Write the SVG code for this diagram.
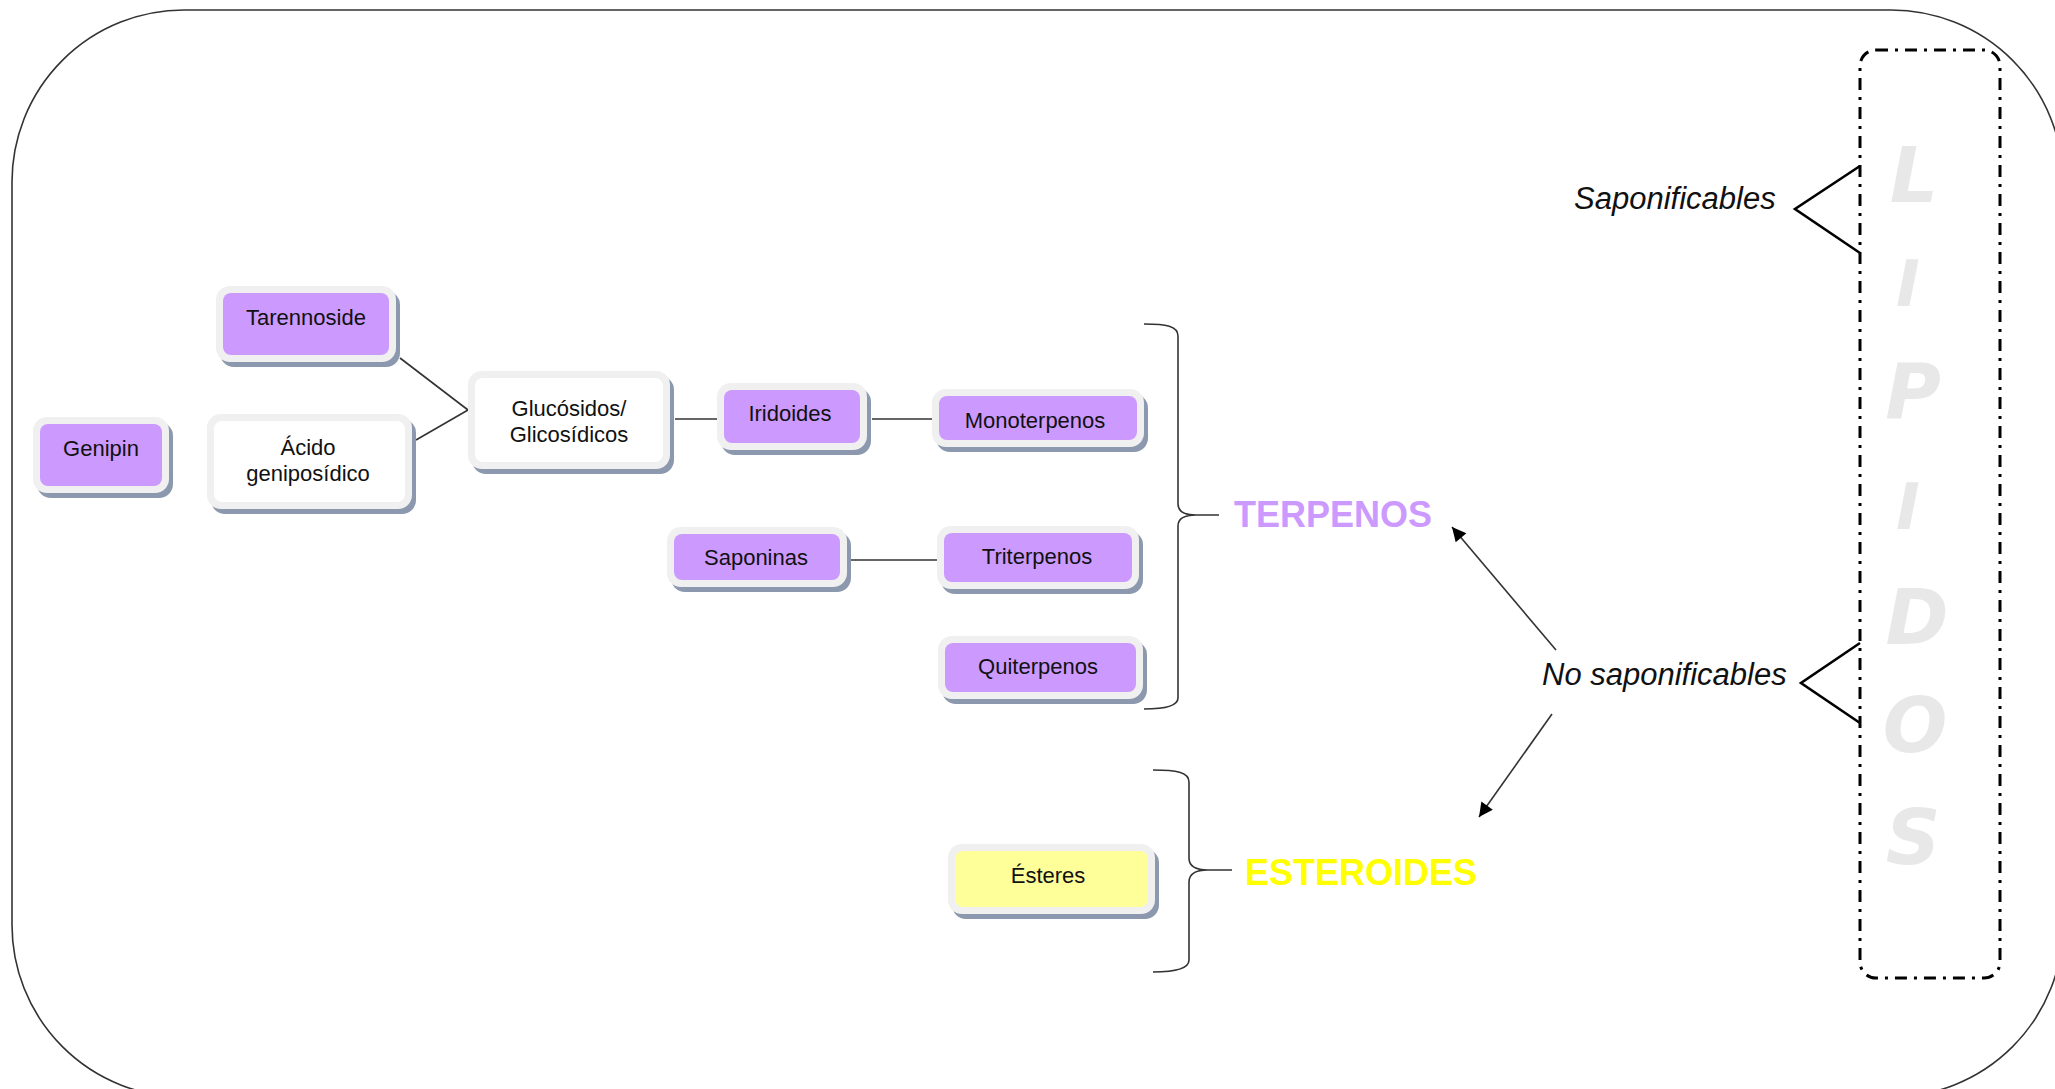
<svg xmlns="http://www.w3.org/2000/svg" width="2055" height="1089" viewBox="0 0 2055 1089">
<defs>
<style>
.shadow{fill:#8c98ae}
.frame{fill:#f0f0f0}
.purple{fill:#cc99ff}
.white{fill:#ffffff}
.yellow{fill:#ffff99}
.lbl{font-family:"Liberation Sans",Arial,sans-serif;font-size:22px;fill:#111;text-anchor:middle}
.conn{stroke:#333;stroke-width:1.6;fill:none}
.brace{stroke:#333;stroke-width:1.6;fill:none}
.side{font-family:"Liberation Sans",Arial,sans-serif;font-size:31px;font-style:italic;fill:#111}
.big{font-family:"Liberation Sans",Arial,sans-serif;font-size:36px;font-weight:bold}
.lip{font-family:"DejaVu Sans",sans-serif;font-size:76px;font-weight:bold;font-style:italic;fill:#e8e8e8;text-anchor:middle}
.lipi{font-size:64px}
</style>
<marker id="arr" viewBox="0 0 10 10" refX="10" refY="5" markerWidth="19" markerHeight="14" markerUnits="userSpaceOnUse" orient="auto">
<path d="M0,0 L10,5 L0,10 z" fill="#000"/>
</marker>
</defs>
<rect width="2055" height="1089" fill="#fff"/>
<rect id="outer" x="12" y="10" width="2051" height="1087" rx="172" fill="none" stroke="#333" stroke-width="1.6"/>

<g id="lipidos">
<rect x="1860" y="50" width="140" height="928" rx="16" fill="none" stroke="#000" stroke-width="3" stroke-dasharray="12 7 3 7"/>
<text class="lip" x="1914" y="202">L</text>
<text class="lip lipi" x="1908" y="306">I</text>
<text class="lip" x="1913" y="418">P</text>
<text class="lip lipi" x="1908" y="529">I</text>
<text class="lip" x="1917" y="644">D</text>
<text class="lip" x="1915" y="752">O</text>
<text class="lip" x="1913" y="864">S</text>
</g>

<g id="connectors">
<line class="conn" x1="400" y1="358" x2="468" y2="410"/>
<line class="conn" x1="416" y1="440" x2="468" y2="410"/>
<line class="conn" x1="675" y1="419" x2="717" y2="419"/>
<line class="conn" x1="872" y1="419" x2="932" y2="419"/>
<line class="conn" x1="850" y1="560" x2="937" y2="560"/>
<line class="conn" x1="1556" y1="650" x2="1452" y2="527" marker-end="url(#arr)"/>
<line class="conn" x1="1552" y1="714" x2="1479" y2="817" marker-end="url(#arr)"/>
<path class="brace" d="M1144,324 C1166,324 1178,326 1178,336 L1178,504 C1178,512 1184,515 1196,515 L1219,515 M1196,515 C1184,515 1178,518 1178,526 L1178,698 C1178,706 1166,709 1144,709"/>
<path class="brace" d="M1153,770 C1176,770 1189,772 1189,782 L1189,858 C1189,866 1196,870 1208,870 L1232,870 M1208,870 C1196,870 1189,874 1189,882 L1189,960 C1189,968 1176,972 1153,972"/>
<polyline points="1860,166 1795,209 1860,253" fill="none" stroke="#000" stroke-width="2.6"/>
<polyline points="1860,643 1801,683 1860,723" fill="none" stroke="#000" stroke-width="2.6"/>
</g>

<g id="n-tarennoside">
<rect class="shadow" x="220" y="291" width="180" height="76" rx="14"/>
<rect class="frame" x="216" y="286" width="180" height="76" rx="14"/>
<rect class="purple" x="223" y="293" width="166" height="62" rx="8"/>
<text class="lbl" x="306" y="325">Tarennoside</text>
</g>

<g id="n-genipin">
<rect class="shadow" x="37" y="422" width="136" height="76" rx="14"/>
<rect class="frame" x="33" y="417" width="136" height="76" rx="14"/>
<rect class="purple" x="40" y="424" width="122" height="62" rx="8"/>
<text class="lbl" x="101" y="456">Genipin</text>
</g>

<g id="n-acido">
<rect class="shadow" x="211" y="419" width="205" height="95" rx="14"/>
<rect class="frame" x="207" y="414" width="205" height="95" rx="14"/>
<rect class="white" x="214" y="421" width="191" height="81" rx="8"/>
<text class="lbl" x="308" y="455">Ácido</text>
<text class="lbl" x="308" y="481">geniposídico</text>
</g>

<g id="n-glucosidos">
<rect class="shadow" x="472" y="376" width="202" height="98" rx="14"/>
<rect class="frame" x="468" y="371" width="202" height="98" rx="14"/>
<rect class="white" x="475" y="378" width="188" height="84" rx="8"/>
<text class="lbl" x="569" y="416">Glucósidos/</text>
<text class="lbl" x="569" y="442">Glicosídicos</text>
</g>

<g id="n-iridoides">
<rect class="shadow" x="721" y="388" width="150" height="67" rx="14"/>
<rect class="frame" x="717" y="383" width="150" height="67" rx="14"/>
<rect class="purple" x="724" y="390" width="136" height="53" rx="8"/>
<text class="lbl" x="790" y="421">Iridoides</text>
</g>

<g id="n-monoterpenos">
<rect class="shadow" x="936" y="394" width="212" height="58" rx="14"/>
<rect class="frame" x="932" y="389" width="212" height="58" rx="14"/>
<rect class="purple" x="939" y="396" width="198" height="44" rx="8"/>
<text class="lbl" x="1035" y="428">Monoterpenos</text>
</g>

<g id="n-saponinas">
<rect class="shadow" x="671" y="532" width="180" height="60" rx="14"/>
<rect class="frame" x="667" y="527" width="180" height="60" rx="14"/>
<rect class="purple" x="674" y="534" width="166" height="46" rx="8"/>
<text class="lbl" x="756" y="565">Saponinas</text>
</g>

<g id="n-triterpenos">
<rect class="shadow" x="941" y="531" width="202" height="63" rx="14"/>
<rect class="frame" x="937" y="526" width="202" height="63" rx="14"/>
<rect class="purple" x="944" y="533" width="188" height="49" rx="8"/>
<text class="lbl" x="1037" y="564">Triterpenos</text>
</g>

<g id="n-quiterpenos">
<rect class="shadow" x="942" y="641" width="205" height="63" rx="14"/>
<rect class="frame" x="938" y="636" width="205" height="63" rx="14"/>
<rect class="purple" x="945" y="643" width="191" height="49" rx="8"/>
<text class="lbl" x="1038" y="674">Quiterpenos</text>
</g>

<g id="n-esteres">
<rect class="shadow" x="952" y="849" width="207" height="70" rx="14"/>
<rect class="frame" x="948" y="844" width="207" height="70" rx="14"/>
<rect class="yellow" x="955" y="851" width="193" height="56" rx="8"/>
<text class="lbl" x="1048" y="883">Ésteres</text>
</g>

<g id="n-terpenos">
<text class="big" x="1234" y="527" fill="#cc99ff">TERPENOS</text>
</g>
<g id="n-esteroides">
<text class="big" x="1245" y="885" fill="#ffff00">ESTEROIDES</text>
</g>
<g id="n-saponificables">
<text class="side" x="1574" y="209">Saponificables</text>
</g>
<g id="n-nosaponificables">
<text class="side" x="1542" y="685">No saponificables</text>
</g>
</svg>
